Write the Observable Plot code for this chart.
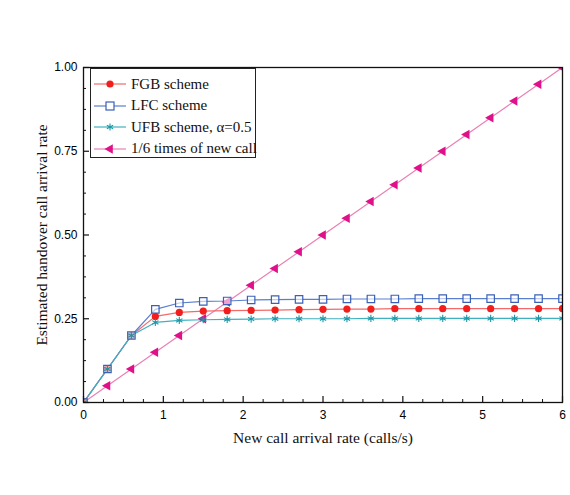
<!DOCTYPE html>
<html>
<head>
<meta charset="utf-8">
<script src="https://cdn.jsdelivr.net/npm/d3@7"></script>
<script src="https://cdn.jsdelivr.net/npm/@observablehq/plot@0.6"></script>
<style>
  html, body { margin: 0; padding: 0; background: #fff; }
  #wrap { position: relative; width: 570px; height: 495px; }
  #wrap svg { font-family: "Liberation Sans", Arial, sans-serif; }
  g[aria-label="y-axis label"] text, g[aria-label="x-axis label"] text {
    font-family: "Liberation Serif", "Times New Roman", serif; font-size: 15.5px; fill: #111;
  }
  #legend {
    position: absolute; left: 90px; top: 68px; width: 166px; height: 90px;
    border: 1px solid #222; background: #fff; box-sizing: border-box;
    font-family: "Liberation Serif", "Times New Roman", serif; font-size: 15px; color: #111;
  }
  .row { position: absolute; left: 2px; height: 20px; display: flex; align-items: center; }
  .row svg { width: 34px; height: 20px; }
  .row span { margin-left: 4px; white-space: nowrap; }
</style>
</head>
<body>
<div id="wrap"></div>
<script>
const xs  = [0, 0.3, 0.6, 0.9, 1.2, 1.5, 1.8, 2.1, 2.4, 2.7, 3.0, 3.3, 3.6, 3.9, 4.2, 4.5, 4.8, 5.1, 5.4, 5.7, 6.0];
const fgb = [0, 0.1, 0.2, 0.257, 0.269, 0.273, 0.274, 0.275, 0.276, 0.277, 0.278, 0.279, 0.279, 0.280, 0.280, 0.280, 0.280, 0.280, 0.280, 0.280, 0.280];
const lfc = [0, 0.1, 0.2, 0.278, 0.297, 0.302, 0.303, 0.306, 0.307, 0.308, 0.308, 0.309, 0.309, 0.309, 0.310, 0.310, 0.310, 0.310, 0.310, 0.310, 0.310];
const ufb = [0, 0.1, 0.2, 0.239, 0.245, 0.247, 0.248, 0.249, 0.250, 0.250, 0.250, 0.250, 0.251, 0.251, 0.251, 0.251, 0.251, 0.251, 0.251, 0.251, 0.251];
const sixth = [0, 0.05, 0.10, 0.15, 0.20, 0.25, 0.30, 0.35, 0.40, 0.45, 0.50, 0.55, 0.60, 0.65, 0.70, 0.75, 0.80, 0.85, 0.90, 0.95, 1.00];

const seriesNames = ["FGB scheme", "LFC scheme", "UFB scheme, \u03b1=0.5", "1/6 times of new call"];
const xMajor = [0, 1, 2, 3, 4, 5, 6];
const xMinor = [0.25, 0.5, 0.75, 1.25, 1.5, 1.75, 2.25, 2.5, 2.75, 3.25, 3.5, 3.75, 4.25, 4.5, 4.75, 5.25, 5.5, 5.75];
const yMajor = [0, 0.25, 0.5, 0.75, 1.0];
const yMinor = [0.0625, 0.125, 0.1875, 0.3125, 0.375, 0.4375, 0.5625, 0.625, 0.6875, 0.8125, 0.875, 0.9375];

const colors = {
  fgbLine: "#f26a6a", fgbDot: "#f21d1d",
  lfcLine: "#5a7fcf", lfcDot: "#3a60b8",
  ufbLine: "#3fb0c0", ufbDot: "#1a96a8",
  sixLine: "#ea80b4", sixDot: "#e0108a"
};

const W = 570, H = 495, mL = 83, mR = 8, mT = 67, mB = 93;
const plotW = W - mL - mR, plotH = H - mT - mB;

const rows = (ys) => xs.map((x, i) => ({x, y: ys[i]}));
const dFgb = rows(fgb), dLfc = rows(lfc), dUfb = rows(ufb), dSix = rows(sixth);

const chart = Plot.plot({
  width: W,
  height: H,
  marginLeft: mL,
  marginRight: mR,
  marginTop: mT,
  marginBottom: mB,
  x: {domain: [0, 6]},
  y: {domain: [0, 1]},
  marks: [
    Plot.line(dSix, {x: "x", y: "y", stroke: colors.sixLine, strokeWidth: 1.2, clip: true}),
    Plot.line(dFgb, {x: "x", y: "y", stroke: colors.fgbLine, strokeWidth: 1.2, clip: true}),
    Plot.line(dLfc, {x: "x", y: "y", stroke: colors.lfcLine, strokeWidth: 1.2, clip: true}),
    Plot.line(dUfb, {x: "x", y: "y", stroke: colors.ufbLine, strokeWidth: 1.2, clip: true}),
    Plot.dot(dSix, {x: "x", y: "y", symbol: "triangle", rotate: -90, r: 3.6, fill: colors.sixDot, stroke: "none", clip: true}),
    Plot.dot(dFgb, {x: "x", y: "y", symbol: "circle", r: 3.6, fill: colors.fgbDot, stroke: "none", clip: true}),
    Plot.dot(dLfc, {x: "x", y: "y", symbol: "square", r: 4.2, fill: "white", fillOpacity: 0.6, stroke: colors.lfcDot, strokeWidth: 1.2, clip: true}),
    Plot.dot(dUfb, {x: "x", y: "y", symbol: "asterisk", r: 3.4, stroke: colors.ufbDot, strokeWidth: 1.1, clip: true}),
    // inward ticks
    Plot.tickX(xMajor, {x: d => d, insetTop: plotH - 6, stroke: "#111", strokeWidth: 1.2}),
    Plot.tickX(xMinor, {x: d => d, insetTop: plotH - 3, stroke: "#111", strokeWidth: 1}),
    Plot.tickY(yMajor, {y: d => d, insetRight: plotW - 6, stroke: "#111", strokeWidth: 1.2}),
    Plot.tickY(yMinor, {y: d => d, insetRight: plotW - 3, stroke: "#111", strokeWidth: 1}),
    Plot.frame({stroke: "#111", strokeWidth: 1.3}),
    Plot.axisX(xMajor, {anchor: "bottom", tickSize: 0, tickPadding: 8, tickFormat: d3.format("d"), fontSize: 12, label: "New call arrival rate (calls/s)", labelAnchor: "center", labelArrow: "none", labelOffset: 40}),
    Plot.axisY(yMajor, {anchor: "left", tickSize: 0, tickPadding: 6, tickFormat: d3.format(".2f"), fontSize: 12, label: "Estimated handover call arrival rate", labelAnchor: "center", labelArrow: "none", labelOffset: 48})
  ]
});
const wrap = document.getElementById("wrap");
wrap.appendChild(chart);

// legend
const legend = document.createElement("div");
legend.id = "legend";
const specs = [
  {name: seriesNames[0], line: colors.fgbLine, sym: `<circle cx="17" cy="10" r="3.6" fill="${colors.fgbDot}"/>`},
  {name: seriesNames[1], line: colors.lfcLine, sym: `<rect x="13" y="6" width="8" height="8" fill="white" stroke="${colors.lfcDot}" stroke-width="1.2"/>`},
  {name: seriesNames[2], line: colors.ufbLine, sym: `<path d="${d3.symbol(d3.symbolAsterisk, Math.PI * 3.4 * 3.4)()}" transform="translate(17,10)" fill="none" stroke="${colors.ufbDot}" stroke-width="1.1"/>`},
  {name: seriesNames[3], line: colors.sixLine, sym: `<path d="${d3.symbol(d3.symbolTriangle, Math.PI * 3.6 * 3.6)()}" transform="translate(17,10) rotate(-90)" fill="${colors.sixDot}"/>`}
];
specs.forEach((s, i) => {
  const row = document.createElement("div");
  row.className = "row";
  row.style.top = (5 + i * 21.5) + "px";
  row.innerHTML = `<svg viewBox="0 0 34 20"><line x1="1" x2="33" y1="10" y2="10" stroke="${s.line}" stroke-width="1.2"/>${s.sym}</svg><span>${s.name}</span>`;
  legend.appendChild(row);
});
wrap.appendChild(legend);
</script>
</body>
</html>
